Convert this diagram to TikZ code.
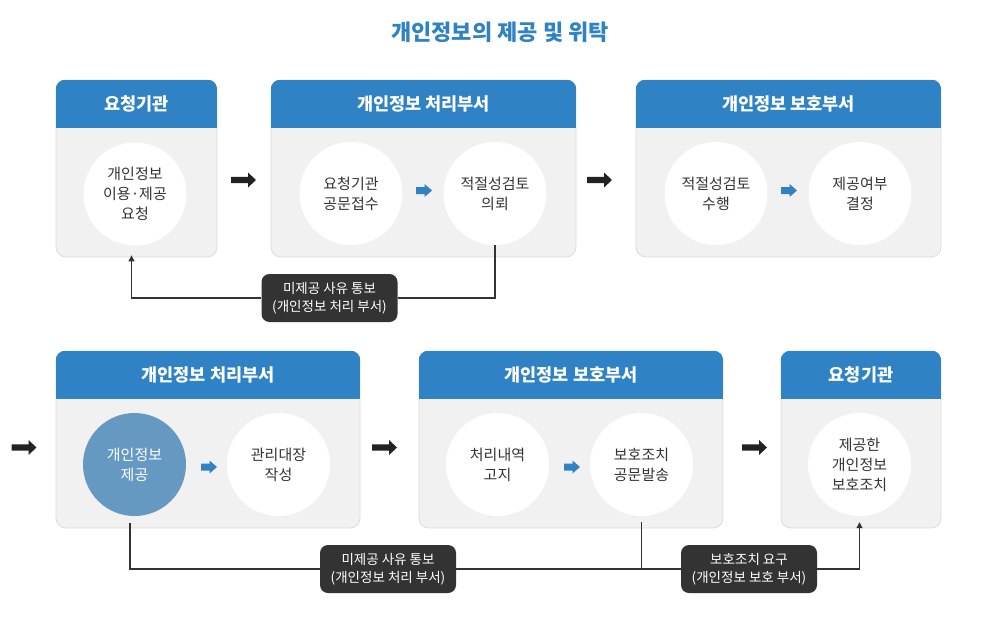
\documentclass[tikz,border=0pt]{standalone}
\usepackage{fontspec}
\setmainfont{Noto Sans CJK KR}
\usetikzlibrary{arrows.meta}
\definecolor{hdr}{HTML}{2F82C4}
\definecolor{body}{HTML}{F1F1F1}
\definecolor{edge}{HTML}{DCDCDC}
\definecolor{txt}{HTML}{333333}
\definecolor{darkbox}{HTML}{333333}
\definecolor{filledc}{HTML}{6699C2}
\definecolor{bigarr}{HTML}{222222}
\tikzset{
  panel/.style={draw=edge, line width=0.8pt, fill=body, rounded corners=10pt, inner sep=0pt},
  hdrtext/.style={text=white, font=\fontsize{17.5}{20}\selectfont\bfseries},
  circ/.style={circle, fill=white, minimum size=103pt, inner sep=0pt, align=center, text=txt, font=\fontsize{15}{20}\selectfont},
  circfilled/.style={circ, fill=filledc, text=white},
  lab/.style={fill=darkbox, rounded corners=8pt, minimum width=136pt, minimum height=48pt, inner sep=0pt, align=center, text=white, font=\fontsize{13.5}{18.5}\selectfont},
  fbline/.style={draw=txt, line width=1.1pt},
  fbarrow/.style={fbline, -{Triangle[length=6pt,width=6pt]}},
}
\newcommand\Panel[6]{% name, cx, cy, w, h, title
  \node[panel, minimum width=#4pt, minimum height=#5pt] (#1) at (#2,#3) {};
  \begin{scope}
    \clip[rounded corners=10pt] (#1.south west) rectangle (#1.north east);
    \fill[hdr] (#1.north west) rectangle ([yshift=-48pt]#1.north east);
  \end{scope}
  \node[hdrtext] (#1h) at ([yshift=-24pt]#1.north) {#6};
}
\newcommand\BigArr[3]{% name, x, y
  \coordinate (#1) at (#2,#3);
  \fill[bigarr, shift={(#1)}] (-12.5,-3.2) -- (4.5,-3.2) -- (4.5,-7.5) -- (12.5,0) -- (4.5,7.5) -- (4.5,3.2) -- (-12.5,3.2) -- cycle;
}
\newcommand\SmallArr[3]{% name, x, y
  \coordinate (#1) at (#2,#3);
  \fill[hdr, shift={(#1)}] (-8,-3.5) -- (0.5,-3.5) -- (0.5,-6.5) -- (8,0) -- (0.5,6.5) -- (0.5,3.5) -- (-8,3.5) -- cycle;
}
\begin{document}
\begin{tikzpicture}[x=1pt,y=-1pt]
\useasboundingbox[fill=white] (0,0) rectangle (1000,627);
\node[text=hdr, font=\fontsize{22}{26}\selectfont\bfseries] (title) at (500,32) {개인정보의 제공 및 위탁};

% top row
\Panel{b1}{136.5}{168.5}{161}{177}{요청기관}
\Panel{b2}{423.5}{168.5}{305}{177}{개인정보 처리부서}
\Panel{b3}{788.5}{168.5}{305}{177}{개인정보 보호부서}

\node[circ] (c1) at (135,194) {개인정보\\이용·제공\\요청};
\node[circ] (c2) at (351,193.5) {요청기관\\공문접수};
\node[circ] (c3) at (495,193.5) {적절성검토\\의뢰};
\node[circ] (c4) at (716,193.5) {적절성검토\\수행};
\node[circ] (c5) at (860,193.5) {제공여부\\결정};

\SmallArr{s1}{424}{190.5}
\SmallArr{s2}{789}{190.5}
\BigArr{a1}{243.5}{180}
\BigArr{a2}{599.5}{180}

\node[lab] (l1) at (329.5,298) {미제공 사유 통보\\(개인정보 처리 부서)};
\coordinate (t1) at ([xshift=-5pt,yshift=2pt]b1.south);
\draw[fbline] (c3.south) |- (l1.east);
\draw[fbarrow] (l1.west) -| (t1);

% bottom row
\Panel{b4}{208}{439.5}{304}{177}{개인정보 처리부서}
\Panel{b5}{571}{439.5}{304}{177}{개인정보 보호부서}
\Panel{b6}{861}{439.5}{160}{177}{요청기관}

\node[circfilled] (c6) at (134.5,464.5) {개인정보\\제공};
\node[circ] (c7) at (278.5,464.5) {관리대장\\작성};
\node[circ] (c8) at (497.5,464.5) {처리내역\\고지};
\node[circ] (c9) at (641.5,464.5) {보호조치\\공문발송};
\node[circ] (c10) at (859.5,464.5) {제공한\\개인정보\\보호조치};

\SmallArr{s3}{209}{467}
\SmallArr{s4}{572}{467}
\BigArr{a3}{24}{447.5}
\BigArr{a4}{384.5}{447.5}
\BigArr{a5}{754.5}{447.5}

\node[lab] (l2) at (388,569) {미제공 사유 통보\\(개인정보 처리 부서)};
\node[lab] (l3) at (749,569) {보호조치 요구\\(개인정보 보호 부서)};
\coordinate (f1) at ([xshift=-4.5pt,yshift=5pt]b4.south -| c6);
\draw[fbline] (f1) |- (l2.west);
\draw[fbline] (l2.east) -- (l3.west);
\draw[fbline, shorten <=6pt] (c9.south) -- (c9.south |- l3.west);
\draw[fbarrow, shorten >=6pt] (l3.east) -| (c10.south);
\end{tikzpicture}
\end{document}
